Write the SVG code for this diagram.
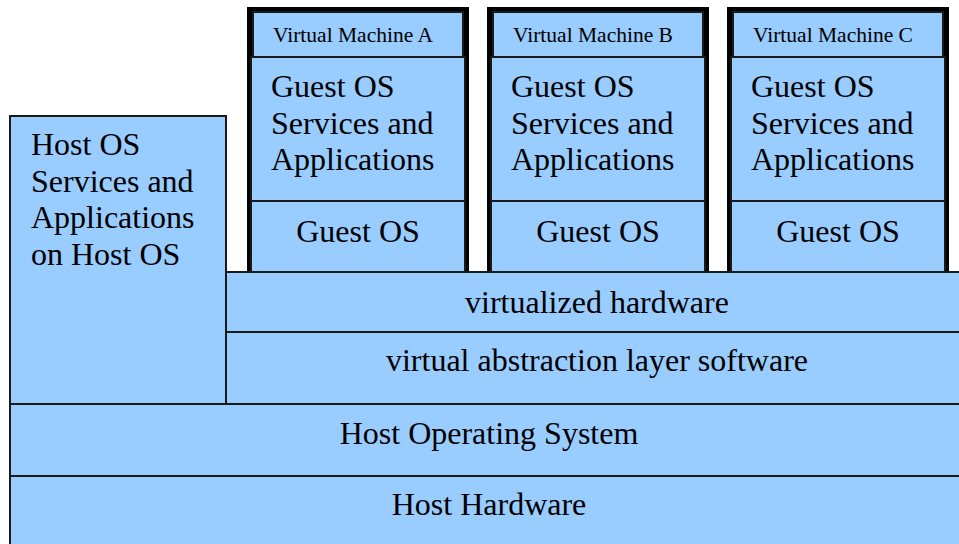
<svg xmlns="http://www.w3.org/2000/svg" width="959" height="544" viewBox="0 0 959 544">
<style>
.box{fill:#99ccff;stroke:#1a1a1a;stroke-width:2}
.frame{fill:#000}
.t{font-family:"Liberation Serif","Times New Roman",serif;fill:#000}
.big{font-size:32px}
.small{font-size:21.5px}
.c{text-anchor:middle}
</style>
<rect width="959" height="544" fill="#fff"/>
<g id="host-apps">
<rect class="box" x="10" y="116" width="216" height="288"/>
<text class="t big" x="31" y="155">Host OS</text>
<text class="t big" x="31" y="192">Services and</text>
<text class="t big" x="31" y="228">Applications</text>
<text class="t big" x="31" y="265">on Host OS</text>
</g>
<g id="vm-a">
<rect class="frame" x="247" y="7" width="222" height="265"/>
<rect class="box" x="253" y="12" width="210" height="45"/>
<text class="t small" x="273" y="42">Virtual Machine A</text>
<rect class="box" x="251" y="57" width="214" height="144"/>
<text class="t big" x="271" y="97">Guest OS</text>
<text class="t big" x="271" y="134">Services and</text>
<text class="t big" x="271" y="170">Applications</text>
<rect class="box" x="251" y="201" width="214" height="71"/>
<text class="t big c" x="358" y="242">Guest OS</text>
</g>
<g id="vm-b">
<rect class="frame" x="487" y="7" width="222" height="265"/>
<rect class="box" x="493" y="12" width="210" height="45"/>
<text class="t small" x="513" y="42">Virtual Machine B</text>
<rect class="box" x="491" y="57" width="214" height="144"/>
<text class="t big" x="511" y="97">Guest OS</text>
<text class="t big" x="511" y="134">Services and</text>
<text class="t big" x="511" y="170">Applications</text>
<rect class="box" x="491" y="201" width="214" height="71"/>
<text class="t big c" x="598" y="242">Guest OS</text>
</g>
<g id="vm-c">
<rect class="frame" x="727" y="7" width="222" height="265"/>
<rect class="box" x="733" y="12" width="210" height="45"/>
<text class="t small" x="753" y="42">Virtual Machine C</text>
<rect class="box" x="731" y="57" width="214" height="144"/>
<text class="t big" x="751" y="97">Guest OS</text>
<text class="t big" x="751" y="134">Services and</text>
<text class="t big" x="751" y="170">Applications</text>
<rect class="box" x="731" y="201" width="214" height="71"/>
<text class="t big c" x="838" y="242">Guest OS</text>
</g>
<g id="virtualized-hardware">
<rect class="box" x="226" y="272" width="742" height="60"/>
<text class="t big c" x="597" y="313">virtualized hardware</text>
</g>
<g id="abstraction-layer">
<rect class="box" x="226" y="332" width="742" height="72"/>
<text class="t big c" x="597" y="371">virtual abstraction layer software</text>
</g>
<g id="host-os">
<rect class="box" x="10" y="404" width="958" height="72"/>
<text class="t big c" x="489" y="444">Host Operating System</text>
</g>
<g id="host-hardware">
<rect class="box" x="10" y="476" width="958" height="76"/>
<text class="t big c" x="489" y="515">Host Hardware</text>
</g>
<g id="connectors"/>
</svg>
